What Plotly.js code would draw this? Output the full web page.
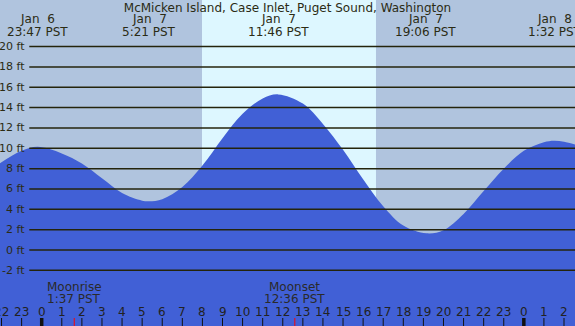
<!DOCTYPE html>
<html>
<head>
<meta charset="utf-8">
<script src="https://cdn.plot.ly/plotly-3.0.1.min.js"></script>
<style>html,body{margin:0;padding:0;background:#b0c4de;}#chart{width:575px;height:326px;}</style>
</head>
<body>
<div id="chart"></div>
<script>
// ---- data (hours relative to Jan 7 00:00 PST) ----
const hours   = [-2.1, -1, -0.2, 1, 2, 3, 4, 5, 5.35, 6, 7, 8, 9, 10, 11, 11.77, 13, 14, 15, 16, 17, 18, 19.15, 20, 21, 22, 23, 24, 25, 25.5, 26, 26.6];
const heights = [8.5, 9.75, 10.15, 9.5, 8.5, 7.05, 5.6, 4.85, 4.79, 5.0, 6.2, 8.3, 11.0, 13.4, 14.9, 15.3, 14.4, 12.4, 9.85, 6.95, 4.3, 2.4, 1.64, 1.95, 3.55, 5.8, 8.0, 9.75, 10.6, 10.75, 10.65, 10.35];

const extremeHours = [-0.22, 5.35, 11.77, 19.1, 25.53];
const extremeDates = ["Jan\u00a0\u00a06", "Jan\u00a0\u00a07", "Jan\u00a0\u00a07", "Jan\u00a0\u00a07", "Jan\u00a0\u00a08"];
const extremeTimes = ["23:47 PST", "5:21 PST", "11:46 PST", "19:06 PST", "1:32 PST"];

const moonHours = [1.62, 12.6, 26.95];
const moonNames = ["Moonrise", "Moonset", "Moonrise"];
const moonTimes = ["1:37 PST", "12:36 PST", "2:57 PST"];

const sunrise = 7.98, sunset = 16.64;

const gridFeet   = [-2, 0, 2, 4, 6, 8, 10, 12, 14, 16, 18, 20];
const gridLabels = ["-2 ft", "0 ft", "2 ft", "4 ft", "6 ft", "8 ft", "10 ft", "12 ft", "14 ft", "16 ft", "18 ft", "20 ft"];

const hourTicks  = [-2,-1,0,1,2,3,4,5,6,7,8,9,10,11,12,13,14,15,16,17,18,19,20,21,22,23,24,25,26];
const hourLabels = ["22","23","0","1","2","3","4","5","6","7","8","9","10","11","12","13","14","15","16","17","18","19","20","21","22","23","0","1","2"];
const midnightTicks = [0, 24];

const title = "McMicken Island, Case Inlet, Puget Sound, Washington";

// ---- styling ----
const W = 575, H = 326;
const py = p => 1 - p / H;         // pixel row -> paper y
const TXT = "#2b2b14";
const FONT = "DejaVu Sans";

const shapes = [];
const annotations = [];

// daylight band
shapes.push({type:"rect", xref:"x", yref:"paper", x0:sunrise, x1:sunset, y0:0, y1:1,
  fillcolor:"#ddf7ff", line:{width:0}, layer:"below"});

// horizontal grid lines above fill + labels
gridFeet.forEach((v, i) => {
  shapes.push({type:"line", xref:"paper", yref:"y", x0:29.3/W, x1:1, y0:v, y1:v,
    line:{color:"#24240c", width:1.5}, layer:"above"});
  annotations.push({xref:"paper", yref:"y", x:27/W, y:v, xanchor:"right", yanchor:"middle",
    text:gridLabels[i], showarrow:false, font:{family:FONT, size:11, color:TXT}});
});

// hour ticks & labels
hourTicks.forEach((h, i) => {
  shapes.push({type:"line", xref:"x", yref:"paper", x0:h, x1:h, y0:0, y1:py(318),
    line:{color:"#111111", width:1}, layer:"above"});
  annotations.push({xref:"x", yref:"paper", x:h, y:py(311.5), xanchor:"center", yanchor:"middle",
    text:hourLabels[i], showarrow:false, font:{family:FONT, size:12, color:"#222222"}});
});
midnightTicks.forEach(h => {
  shapes.push({type:"line", xref:"x", yref:"paper", x0:h, x1:h, y0:0, y1:py(318),
    line:{color:"#111111", width:3.5}, layer:"above"});
});

// tide extremes labels
extremeHours.forEach((h, i) => {
  annotations.push({xref:"x", yref:"paper", x:h, y:py(19.5), xanchor:"center", yanchor:"middle",
    text:extremeDates[i], showarrow:false, font:{family:FONT, size:12, color:TXT}});
  annotations.push({xref:"x", yref:"paper", x:h, y:py(31.5), xanchor:"center", yanchor:"middle",
    text:extremeTimes[i], showarrow:false, font:{family:FONT, size:12, color:TXT}});
});

// moon events
moonHours.forEach((h, i) => {
  annotations.push({xref:"x", yref:"paper", x:h, y:py(287), xanchor:"center", yanchor:"middle",
    text:moonNames[i], showarrow:false, font:{family:FONT, size:12, color:"#2a2a2a"}});
  annotations.push({xref:"x", yref:"paper", x:h, y:py(299), xanchor:"center", yanchor:"middle",
    text:moonTimes[i], showarrow:false, font:{family:FONT, size:12, color:"#2a2a2a"}});
  shapes.push({type:"line", xref:"x", yref:"paper", x0:h, x1:h, y0:0, y1:py(318),
    line:{color:"#ff0000", width:1}, layer:"above"});
});

const baseline = hours.map(() => -20);

const traces = [
  {x:hours, y:baseline, type:"scatter", mode:"lines", line:{width:0}, hoverinfo:"skip", showlegend:false},
  {x:hours, y:heights, type:"scatter", mode:"lines", line:{width:0, shape:"spline", smoothing:1},
   fill:"tonexty", fillcolor:"#4160d6", hoverinfo:"skip", showlegend:false}
];

const layout = {
  width:W, height:H,
  margin:{l:0, r:0, t:0, b:0},
  paper_bgcolor:"#b0c4de",
  plot_bgcolor:"#b0c4de",
  showlegend:false,
  title:{text:title, x:0.5, xanchor:"center", y:py(8), yanchor:"middle",
    font:{family:FONT, size:12, color:TXT}},
  xaxis:{range:[-2.076, 26.547], showgrid:false, zeroline:false, showticklabels:false, ticks:"", fixedrange:true},
  yaxis:{range:[-7.47, 24.58], showgrid:false, zeroline:false, showticklabels:false, ticks:"", fixedrange:true},
  shapes:shapes,
  annotations:annotations
};

Plotly.newPlot("chart", traces, layout, {displayModeBar:false, staticPlot:true});
</script>
</body>
</html>
